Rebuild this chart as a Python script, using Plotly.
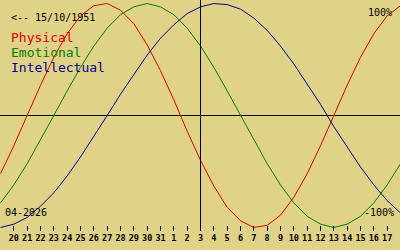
import plotly.graph_objects as go

# Day labels shown on the axis (20 Mar .. 17 Apr 2026)
day_labels = ["20", "21", "22", "23", "24", "25", "26", "27", "28", "29", "30", "31",
              "1", "2", "3", "4", "5", "6", "7", "8", "9", "10", "11", "12", "13",
              "14", "15", "16", "17"]
# sample positions (one day before first label to one day after last)
positions = [-1, 0, 1, 2, 3, 4, 5, 6, 7, 8, 9, 10, 11, 12, 13, 14, 15, 16, 17, 18,
             19, 20, 21, 22, 23, 24, 25, 26, 27, 28, 29]
today_index = 14

physical = [-0.52, -0.27, 0.00, 0.27, 0.52, 0.73, 0.89, 0.98, 1.00, 0.94, 0.82,
            0.63, 0.40, 0.14, -0.14, -0.40, -0.63, -0.82, -0.94, -1.00, -0.98,
            -0.89, -0.73, -0.52, -0.27, 0.00, 0.27, 0.52, 0.73, 0.89, 0.98]
emotional = [-0.78, -0.62, -0.43, -0.22, 0.00, 0.22, 0.43, 0.62, 0.78, 0.90, 0.97,
             1.00, 0.97, 0.90, 0.78, 0.62, 0.43, 0.22, 0.00, -0.22, -0.43, -0.62,
             -0.78, -0.90, -0.97, -1.00, -0.97, -0.90, -0.78, -0.62, -0.43]
intellectual = [-1.00, -0.97, -0.91, -0.81, -0.69, -0.54, -0.37, -0.19, 0.00, 0.19,
                0.37, 0.54, 0.69, 0.81, 0.91, 0.97, 1.00, 0.99, 0.95, 0.87, 0.76,
                0.62, 0.46, 0.28, 0.10, -0.10, -0.28, -0.46, -0.62, -0.76, -0.87]

series_names = ["Physical", "Emotional", "Intellectual"]
series_colors = ["#e00000", "#008000", "#000090"]
birth_text = "<-- 15/10/1951"
month_text = "04-2026"

BG = "#e0d388"
MONO = "DejaVu Sans Mono"

fig = go.Figure()
for name, vals, col in zip(series_names, [physical, emotional, intellectual], series_colors):
    fig.add_trace(go.Scatter(x=positions, y=vals, mode="lines", name=name,
                             line=dict(color=col, width=1), showlegend=False,
                             hoverinfo="skip"))

fig.update_layout(
    width=400, height=250, margin=dict(l=0, r=0, t=0, b=0),
    paper_bgcolor=BG, plot_bgcolor=BG,
    xaxis=dict(range=[-1.0375, 28.9625], anchor="free", position=0.1, showgrid=False,
               zeroline=False, showline=False, ticks="outside", ticklen=5,
               tickwidth=1, tickcolor="black",
               tickvals=list(range(len(day_labels))), ticktext=day_labels,
               tickfont=dict(family=MONO, size=8.5, color="black", weight="bold"),
               ticklabelstandoff=0),
    yaxis=dict(range=[-1.2009, 1.03125], showgrid=False, showticklabels=False,
               zeroline=True, zerolinecolor="black", zerolinewidth=1),
)

fig.add_shape(type="line", xref="x", yref="paper", x0=today_index, x1=today_index,
              y0=0.08, y1=1, line=dict(color="black", width=1))

def note(text, x, y, anchor, size, color="black"):
    fig.add_annotation(text=text, xref="paper", yref="paper", x=x / 400, y=1 - y / 250,
                       xanchor=anchor, yanchor="middle", showarrow=False,
                       font=dict(family=MONO, size=size, color=color), borderpad=0)

note(birth_text, 10, 17, "left", 10)
for k, (name, col) in enumerate(zip(series_names, series_colors)):
    note(name, 10, 37.5 + 15 * k, "left", 13, col)
note("100%", 393, 12.5, "right", 10)
note(month_text, 4, 212.5, "left", 10)
note("-100%", 395, 212.5, "right", 10)

fig.write_html("out.html")
